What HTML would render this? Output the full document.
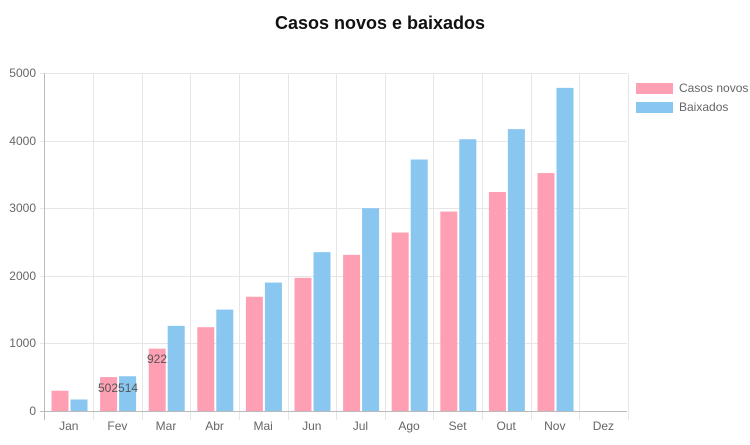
<!DOCTYPE html>
<html><head><meta charset="utf-8"><style>
html,body{margin:0;padding:0;background:#fff;width:750px;height:445px;overflow:hidden}
text{font-family:"Liberation Sans",sans-serif}
</style></head><body>
<svg width="750" height="445" xmlns="http://www.w3.org/2000/svg">
<text x="380" y="29" text-anchor="middle" font-size="18" font-weight="bold" fill="#111">Casos novos e baixados</text>
<g stroke="#e6e6e6" stroke-width="1">
<line x1="40" y1="73.5" x2="627" y2="73.5"/>
<line x1="40" y1="141.5" x2="627" y2="141.5"/>
<line x1="40" y1="208.5" x2="627" y2="208.5"/>
<line x1="40" y1="276.5" x2="627" y2="276.5"/>
<line x1="40" y1="343.5" x2="627" y2="343.5"/>
</g>
<g stroke="#e6e6e6" stroke-width="1" id="vg"></g>
<g id="bars"></g>
<line x1="40" y1="411.5" x2="627" y2="411.5" stroke="#bbb"/>
<line x1="44.5" y1="73" x2="44.5" y2="420" stroke="#bbb"/>
<g font-size="12" fill="#666" text-anchor="end">
<text x="36" y="77">5000</text><text x="36" y="145">4000</text><text x="36" y="212">3000</text>
<text x="36" y="280">2000</text><text x="36" y="347">1000</text><text x="36" y="415">0</text>
</g>
<g font-size="12" fill="#666" text-anchor="middle" id="xl"></g>
<g font-size="12" fill="#555">
<text x="98" y="392">502514</text><text x="147" y="363">922</text>
</g>
<rect x="636" y="83" width="37" height="11" fill="#ff9fb4"/>
<rect x="636" y="102" width="37" height="11" fill="#89c6f0"/>
<g font-size="12" fill="#666"><text x="679" y="92">Casos novos</text><text x="679" y="111">Baixados</text></g>
<script>
var ns="http://www.w3.org/2000/svg",x0=44.5,w=48.6;
var m=["Jan","Fev","Mar","Abr","Mai","Jun","Jul","Ago","Set","Out","Nov","Dez"];
var a=[300,502,922,1240,1690,1970,2310,2640,2950,3240,3520,0];
var b=[170,514,1260,1500,1900,2350,3000,3720,4020,4170,4780,0];
function el(t,at,p){var e=document.createElementNS(ns,t);for(var k in at)e.setAttribute(k,at[k]);p.appendChild(e);return e;}
var vg=document.getElementById("vg"),bars=document.getElementById("bars"),xl=document.getElementById("xl");
for(var i=0;i<12;i++){
 var x=x0+i*w;
 el("line",{x1:Math.round(x+w)+.5,y1:73,x2:Math.round(x+w)+.5,y2:420},vg);
 if(a[i]){var h=a[i]*0.0676;el("rect",{x:x+7,y:411-h,width:17,height:h,fill:"#ff9fb4"},bars);}
 if(b[i]){var h2=b[i]*0.0676;el("rect",{x:x+26,y:411-h2,width:17,height:h2,fill:"#89c6f0"},bars);}
 var t=el("text",{x:x+w/2,y:430},xl);t.textContent=m[i];
}
</script>
</svg>
</body></html>
